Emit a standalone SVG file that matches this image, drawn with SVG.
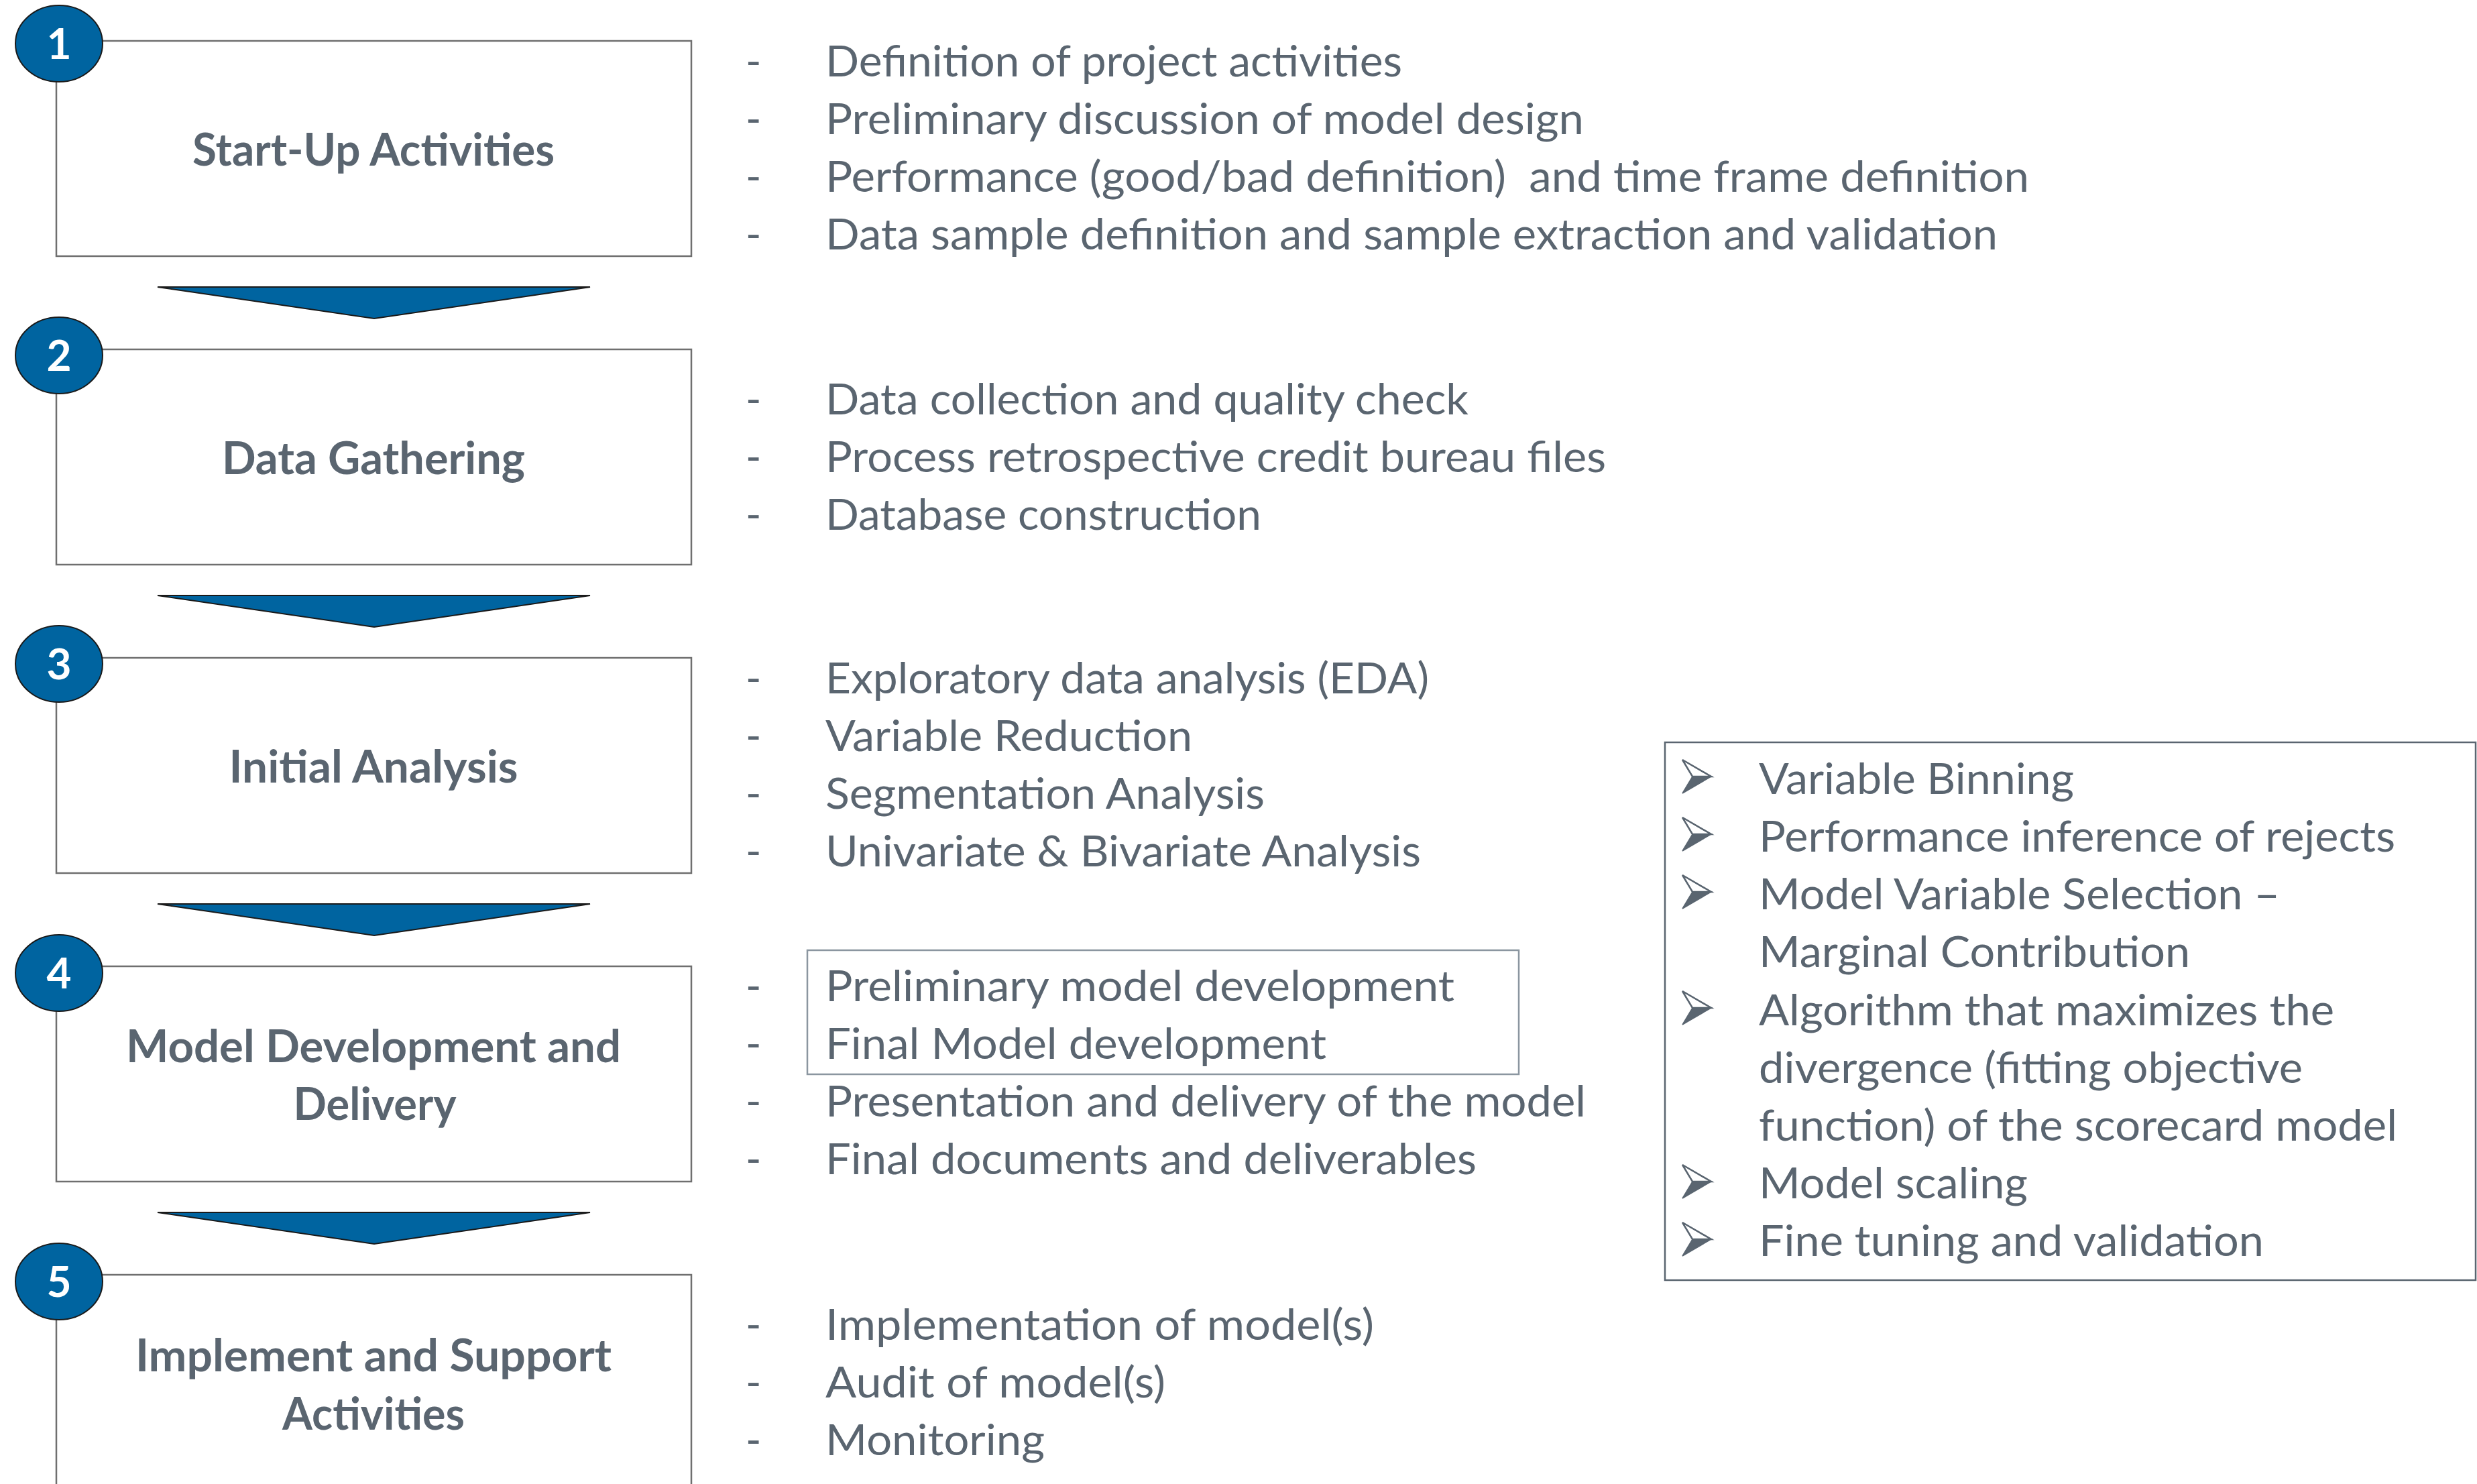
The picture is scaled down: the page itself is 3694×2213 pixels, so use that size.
<svg xmlns="http://www.w3.org/2000/svg" width="3694" height="2213" viewBox="0 0 3694 2213">
  <style>
    .box { fill: #ffffff; stroke: #6f6f6f; stroke-width: 2.5; }
    .badge { fill: #0064a0; stroke: #1a1a1a; stroke-width: 2; }
    .num { font-family: Lato, "Open Sans", "Liberation Sans", sans-serif; font-weight: 700; font-size: 64px; fill: #ffffff; text-anchor: middle; }
    .title { font-family: Lato, "Open Sans", "Liberation Sans", sans-serif; font-weight: 700; font-size: 66px; fill: #5a6570; text-anchor: middle; }
    .item { font-family: Lato, "Open Sans", "Liberation Sans", sans-serif; font-size: 63px; fill: #5a6570; white-space: pre; }
    .dash { font-family: Lato, "Open Sans", "Liberation Sans", sans-serif; font-size: 63px; fill: #5a6570; }
    .flow { fill: #0064a0; stroke: #1a1a1a; stroke-width: 2; stroke-linejoin: miter; }
    .frame { fill: none; stroke: #8b96a0; stroke-width: 2.5; }
    .panel { fill: none; stroke: #5a6570; stroke-width: 2.5; }
    .tip-light { fill: #ffffff; stroke: #5a6570; stroke-width: 2.5; stroke-linejoin: miter; }
    .tip-dark { fill: #5a6570; stroke: #5a6570; stroke-width: 1.5; }
  </style>
  <defs>
    <!-- 3D arrowhead bullet, origin at the left points' x and the tip's y -->
    <g id="bullet">
      <polygon class="tip-light" points="0,-25 43,0 15,0"/>
      <polygon class="tip-dark" points="15,0 43,0 0,25"/>
    </g>
  </defs>

  <rect width="3694" height="2213" fill="#ffffff"/>

  <!-- downward arrows between phases -->
  <g id="connectors">
    <polygon class="flow" points="235,428 880,428 558,475"/>
    <polygon class="flow" points="235,888 880,888 558,935"/>
    <polygon class="flow" points="235,1348 880,1348 558,1395"/>
    <polygon class="flow" points="235,1808 880,1808 558,1855"/>
  </g>

  <!-- phase 1 -->
  <g id="phase1">
    <rect class="box" x="84" y="61" width="947" height="321"/>
    <ellipse class="badge" cx="88" cy="65" rx="65" ry="57"/>
    <text class="num" x="88" y="88">1</text>
    <text class="title" x="557" y="247" textLength="540" lengthAdjust="spacingAndGlyphs">Start-Up Activities</text>
  </g>

  <!-- phase 2 -->
  <g id="phase2">
    <rect class="box" x="84" y="521" width="947" height="321"/>
    <ellipse class="badge" cx="88" cy="530" rx="65" ry="57"/>
    <text class="num" x="88" y="553">2</text>
    <text class="title" x="557" y="707" textLength="452" lengthAdjust="spacingAndGlyphs">Data Gathering</text>
  </g>

  <!-- phase 3 -->
  <g id="phase3">
    <rect class="box" x="84" y="981" width="947" height="321"/>
    <ellipse class="badge" cx="88" cy="990" rx="65" ry="57"/>
    <text class="num" x="88" y="1013">3</text>
    <text class="title" x="557" y="1167" textLength="431" lengthAdjust="spacingAndGlyphs">Initial Analysis</text>
  </g>

  <!-- phase 4 -->
  <g id="phase4">
    <rect class="box" x="84" y="1441" width="947" height="321"/>
    <ellipse class="badge" cx="88" cy="1451" rx="65" ry="57"/>
    <text class="num" x="88" y="1474">4</text>
    <text class="title" x="557" y="1584" textLength="738" lengthAdjust="spacingAndGlyphs">Model Development and</text>
    <text class="title" x="559" y="1670" textLength="243" lengthAdjust="spacingAndGlyphs">Delivery</text>
  </g>

  <!-- phase 5 -->
  <g id="phase5">
    <rect class="box" x="84" y="1901" width="947" height="321"/>
    <ellipse class="badge" cx="88" cy="1911" rx="65" ry="57"/>
    <text class="num" x="88" y="1934">5</text>
    <text class="title" x="557" y="2045" textLength="710" lengthAdjust="spacingAndGlyphs">Implement and Support</text>
    <text class="title" x="557" y="2132" textLength="272" lengthAdjust="spacingAndGlyphs">Activities</text>
  </g>

  <!-- activity lists -->
  <g id="list1">
    <text class="dash" x="1112" y="114">-</text>
    <text class="dash" x="1112" y="200">-</text>
    <text class="dash" x="1112" y="286">-</text>
    <text class="dash" x="1112" y="372">-</text>
    <text class="item" x="1231" y="114" textLength="860" lengthAdjust="spacingAndGlyphs">Definition of project activities</text>
    <text class="item" x="1231" y="200" textLength="1131" lengthAdjust="spacingAndGlyphs">Preliminary discussion of model design</text>
    <text class="item" x="1231" y="286" textLength="1795" lengthAdjust="spacingAndGlyphs">Performance (good/bad definition)  and time frame definition</text>
    <text class="item" x="1231" y="372" textLength="1748" lengthAdjust="spacingAndGlyphs">Data sample definition and sample extraction and validation</text>
  </g>

  <g id="list2">
    <text class="dash" x="1112" y="618">-</text>
    <text class="dash" x="1112" y="704">-</text>
    <text class="dash" x="1112" y="790">-</text>
    <text class="item" x="1231" y="618" textLength="959" lengthAdjust="spacingAndGlyphs">Data collection and quality check</text>
    <text class="item" x="1231" y="704" textLength="1164" lengthAdjust="spacingAndGlyphs">Process retrospective credit bureau files</text>
    <text class="item" x="1231" y="790" textLength="650" lengthAdjust="spacingAndGlyphs">Database construction</text>
  </g>

  <g id="list3">
    <text class="dash" x="1112" y="1034">-</text>
    <text class="dash" x="1112" y="1120">-</text>
    <text class="dash" x="1112" y="1206">-</text>
    <text class="dash" x="1112" y="1292">-</text>
    <text class="item" x="1231" y="1034" textLength="900" lengthAdjust="spacingAndGlyphs">Exploratory data analysis (EDA)</text>
    <text class="item" x="1231" y="1120" textLength="547" lengthAdjust="spacingAndGlyphs">Variable Reduction</text>
    <text class="item" x="1231" y="1206" textLength="655" lengthAdjust="spacingAndGlyphs">Segmentation Analysis</text>
    <text class="item" x="1231" y="1292" textLength="888" lengthAdjust="spacingAndGlyphs">Univariate &amp; Bivariate Analysis</text>
  </g>

  <g id="list4">
    <rect class="frame" x="1204" y="1417" width="1061" height="185"/>
    <text class="dash" x="1112" y="1493">-</text>
    <text class="dash" x="1112" y="1579">-</text>
    <text class="dash" x="1112" y="1665">-</text>
    <text class="dash" x="1112" y="1751">-</text>
    <text class="item" x="1231" y="1493" textLength="938" lengthAdjust="spacingAndGlyphs">Preliminary model development</text>
    <text class="item" x="1231" y="1579" textLength="747" lengthAdjust="spacingAndGlyphs">Final Model development</text>
    <text class="item" x="1231" y="1665" textLength="1134" lengthAdjust="spacingAndGlyphs">Presentation and delivery of the model</text>
    <text class="item" x="1231" y="1751" textLength="971" lengthAdjust="spacingAndGlyphs">Final documents and deliverables</text>
  </g>

  <g id="list5">
    <text class="dash" x="1112" y="1998">-</text>
    <text class="dash" x="1112" y="2084">-</text>
    <text class="dash" x="1112" y="2170">-</text>
    <text class="item" x="1231" y="1998" textLength="818" lengthAdjust="spacingAndGlyphs">Implementation of model(s)</text>
    <text class="item" x="1231" y="2084" textLength="507" lengthAdjust="spacingAndGlyphs">Audit of model(s)</text>
    <text class="item" x="1231" y="2170" textLength="327" lengthAdjust="spacingAndGlyphs">Monitoring</text>
  </g>

  <!-- model development detail panel -->
  <g id="detail">
    <rect class="panel" x="2483" y="1107" width="1209" height="802"/>
    <use href="#bullet" x="2509" y="1158"/>
    <use href="#bullet" x="2509" y="1244"/>
    <use href="#bullet" x="2509" y="1330"/>
    <use href="#bullet" x="2509" y="1503"/>
    <use href="#bullet" x="2509" y="1762"/>
    <use href="#bullet" x="2509" y="1848"/>
    <text class="item" x="2623" y="1184" textLength="470" lengthAdjust="spacingAndGlyphs">Variable Binning</text>
    <text class="item" x="2623" y="1270" textLength="949" lengthAdjust="spacingAndGlyphs">Performance inference of rejects</text>
    <text class="item" x="2623" y="1356" textLength="777" lengthAdjust="spacingAndGlyphs">Model Variable Selection –</text>
    <text class="item" x="2623" y="1442" textLength="643" lengthAdjust="spacingAndGlyphs">Marginal Contribution</text>
    <text class="item" x="2623" y="1529" textLength="858" lengthAdjust="spacingAndGlyphs">Algorithm that maximizes the</text>
    <text class="item" x="2623" y="1615" textLength="811" lengthAdjust="spacingAndGlyphs">divergence (fitting objective</text>
    <text class="item" x="2623" y="1701" textLength="952" lengthAdjust="spacingAndGlyphs">function) of the scorecard model</text>
    <text class="item" x="2623" y="1787" textLength="401" lengthAdjust="spacingAndGlyphs">Model scaling</text>
    <text class="item" x="2623" y="1873" textLength="753" lengthAdjust="spacingAndGlyphs">Fine tuning and validation</text>
  </g>
</svg>
